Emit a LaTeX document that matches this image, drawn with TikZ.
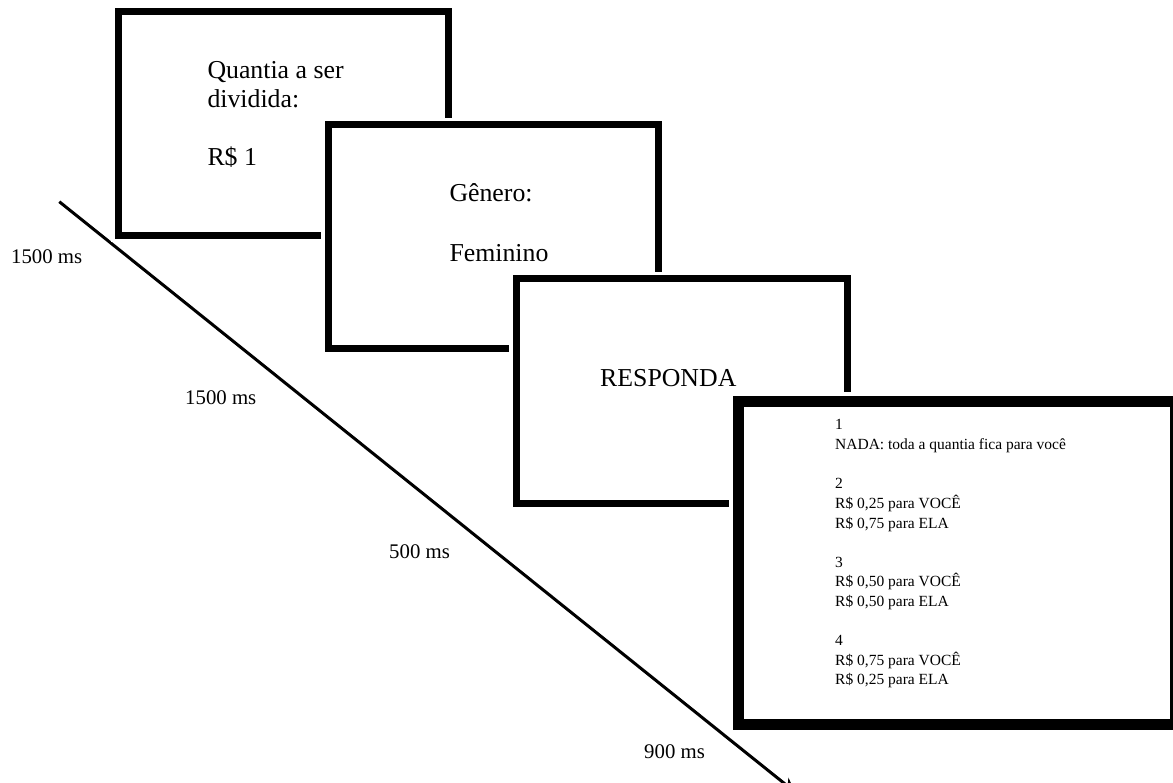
\documentclass[tikz,border=0pt]{standalone}
\usepackage{fontspec}
\setmainfont{Liberation Serif}
\newfontfamily\tnr{Liberation Serif}
\usetikzlibrary{arrows.meta}
\begin{document}
\begin{tikzpicture}[x=1pt,y=-1pt,
  screen/.style={draw=black, fill=white, line width=7pt, inner sep=0pt, line join=miter,
    preaction={draw=white, line width=14pt}},
  bigscreen/.style={draw=black, fill=white, line width=11pt, inner sep=0pt, line join=miter,
    preaction={draw=white, line width=18pt}},
  big/.style={anchor=base west, inner sep=0pt, font=\tnr\fontsize{25.8}{30}\selectfont},
  lbl/.style={anchor=base west, inner sep=0pt, font=\tnr\fontsize{20.8}{24}\selectfont},
  small/.style={anchor=base west, inner sep=0pt, font=\tnr\fontsize{15.5}{19}\selectfont},
  timeline/.style={line width=3pt, -{Stealth[length=14pt,width=14pt]}}]
\useasboundingbox (0,0) rectangle (1173,783);
\clip (0,0) rectangle (1173,783);
% time line
\coordinate (t0) at (59.3,201.7);
\coordinate (t1) at (795,792);
\draw[timeline] (t0) -- (t1);
% screens
\node[screen, minimum width=330pt, minimum height=224pt] (s1) at (283,123.5) {};
\node[screen, minimum width=330.2pt, minimum height=224pt] (s2) at (493.4,237) {};
\node[screen, minimum width=331pt, minimum height=224pt] (s3) at (681.5,391) {};
\node[bigscreen, minimum width=437pt, minimum height=322.8pt] (s4) at (956.5,562.6) {};
% screen texts
\node[big] (q1) at (207.3,79) {Quantia a ser};
\node[big] (q2) at (207.3,107.5) {dividida:};
\node[big] (q3) at (207.3,166) {R\$ 1};
\node[big] (g1) at (449.3,201.7) {Gênero:};
\node[big] (g2) at (449.3,261.7) {Feminino};
\node[big] (r1) at (600,387) {RESPONDA};
\node[small] (o1) at (835,430) {1};
\node[small] (o1a) at (835,449.6) {NADA: toda a quantia fica para você};
\node[small] (o2) at (835,488.8) {2};
\node[small] (o2a) at (835,508.4) {R\$ 0,25 para VOCÊ};
\node[small] (o2b) at (835,528) {R\$ 0,75 para ELA};
\node[small] (o3) at (835,567.2) {3};
\node[small] (o3a) at (835,586.8) {R\$ 0,50 para VOCÊ};
\node[small] (o3b) at (835,606.4) {R\$ 0,50 para ELA};
\node[small] (o4) at (835,645.6) {4};
\node[small] (o4a) at (835,665.2) {R\$ 0,75 para VOCÊ};
\node[small] (o4b) at (835,684.8) {R\$ 0,25 para ELA};
% durations
\node[lbl] (l1) at (11,264) {1500 ms};
\node[lbl] (l2) at (185,405) {1500 ms};
\node[lbl] (l3) at (389,558) {500 ms};
\node[lbl] (l4) at (644,758) {900 ms};
\end{tikzpicture}
\end{document}
